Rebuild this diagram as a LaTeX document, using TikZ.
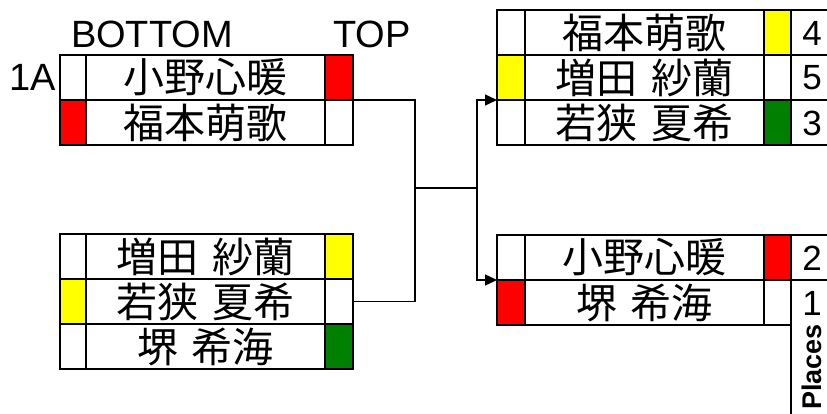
\documentclass[tikz,border=0pt]{standalone}
\usepackage{fontspec}
\setmainfont{Liberation Sans}
\newfontfamily\jpfont[WordSpace=1.5]{Noto Sans CJK JP}
\usetikzlibrary{arrows.meta}
\definecolor{wred}{RGB}{255,0,0}
\definecolor{wyel}{RGB}{255,255,0}
\definecolor{wgreen}{RGB}{0,128,0}
\tikzset{
  cell/.style={draw, line width=1.5pt, anchor=north west, minimum height=45pt, inner sep=0pt, outer sep=0pt},
  namefont/.style={font=\jpfont\fontsize{41}{41}\selectfont},
  latin/.style={font=\fontsize{38}{38}\selectfont, inner sep=0pt},
  numtext/.style={font=\fontsize{35}{35}\selectfont, inner sep=0pt},
  frame/.style={draw, line width=2.6pt},
  gridline/.style={draw, line width=1.5pt},
  conn/.style={draw, line width=1.4pt},
  tip/.style={-{Triangle[length=12pt,width=11pt]}}
}
\newcommand\brRowL[5]{%
  \node[cell,fill=#3,minimum width=26pt] (#1l) at (60,#2) {};
  \node[cell,minimum width=239pt,namefont] (#1n) at (86,#2) {#4};
  \node[cell,fill=#5,minimum width=28pt] (#1r) at (325,#2) {};
}
\newcommand\brRowR[6]{%
  \node[cell,fill=#3,minimum width=28pt] (#1l) at (497,#2) {};
  \node[cell,minimum width=239pt,namefont] (#1n) at (525,#2) {#4};
  \node[cell,fill=#5,minimum width=27pt] (#1r) at (764,#2) {};
  \node[numtext] (#1p) at (812,#2+23) {#6};
}
\begin{document}
\begin{tikzpicture}[x=1pt,y=-1pt]
\useasboundingbox (0,0) rectangle (827,414);
\fill[white] (0,0) rectangle (827,414);

% headers
\node[latin] (hb) at (152,34) {BOTTOM};
\node[latin] (ht) at (372,34) {TOP};
\node[latin] (h1a) at (33,77) {1A};

% left group 1
\brRowL{ga}{55}{white}{小野心暖}{wred}
\brRowL{gb}{100}{wred}{福本萌歌}{white}
\draw[frame] (gal.north west) rectangle (gbr.south east);

% left group 2
\brRowL{ha}{234}{white}{増田 紗蘭}{wyel}
\brRowL{hb}{279}{wyel}{若狭 夏希}{white}
\brRowL{hc}{324}{white}{堺 希海}{wgreen}
\draw[frame] (hal.north west) rectangle (hcr.south east);

% right group 1
\brRowR{ra}{10}{white}{福本萌歌}{wyel}{4}
\brRowR{rb}{55}{wyel}{増田 紗蘭}{white}{5}
\brRowR{rc}{100}{white}{若狭 夏希}{wgreen}{3}
\draw[gridline] (rar.north east) -- (rcr.south east);
\draw[gridline] (rar.south east) -- (850,55);
\draw[gridline] (rbr.south east) -- (850,100);
\draw[frame] (ral.north west) rectangle (850,145);

% right group 2
\brRowR{sa}{235}{white}{小野心暖}{wred}{2}
\brRowR{sb}{280}{wred}{堺 希海}{white}{1}
\draw[frame] (sal.north west) rectangle (sbr.south east);
\draw[frame] (sar.north east) -- (850,235);
\draw[gridline] (sar.south east) -- (850,280);
\coordinate (pend) at (791,414);
\draw[gridline] (sar.north east) -- (pend);
\node[font=\bfseries\fontsize{27}{27}\selectfont, rotate=90, inner sep=0pt] (places) at (812,367) {Places};

% connectors
\coordinate (j1) at (415,188);
\coordinate (j2) at (477,188);
\draw[conn] (gar.south east) -| (j1);
\draw[conn] (hbr.east) -| (j1);
\draw[conn] (j1) -- (j2);
\draw[conn,tip] (j2) |- (rbl.south west);
\draw[conn,tip] (j2) |- (sal.south west);
\end{tikzpicture}
\end{document}
